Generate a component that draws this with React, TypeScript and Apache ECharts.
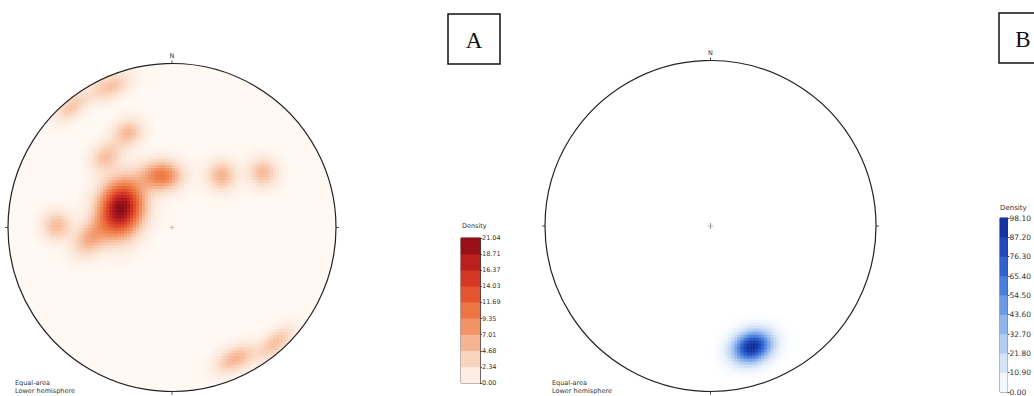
import React, { useEffect, useRef } from "react";
import * as echarts from "echarts";

// Density maps are sampled on a square grid of GRID_N x GRID_N cells over the net
const GRID_N = 110;

// Density concentrations:
// [x, y, peak density, sigma along major axis, sigma along minor axis, major axis angle (deg)]
// x, y and sigmas are in units of the net radius (centre = 0,0; north = +y)
const blobsA: number[][] = [
  [-0.311, 0.116, 21.04, 0.118, 0.09, 75],
  [-0.061, 0.317, 10.0, 0.085, 0.062, 0],
  [0.305, 0.317, 6.0, 0.062, 0.062, 0],
  [0.555, 0.335, 5.5, 0.062, 0.062, 0],
  [-0.268, 0.579, 5.5, 0.065, 0.055, 30],
  [-0.402, 0.433, 5.0, 0.07, 0.055, 40],
  [-0.701, 0.012, 5.5, 0.062, 0.062, 0],
  [-0.5, -0.067, 6.0, 0.085, 0.06, 50],
  [-0.378, 0.86, 5.0, 0.09, 0.05, 24],
  [-0.61, 0.738, 4.5, 0.08, 0.045, 40],
  [0.39, -0.799, 6.0, 0.09, 0.05, 26],
  [0.634, -0.701, 5.0, 0.09, 0.045, 42],
];
const blobsB: number[][] = [[0.253, -0.729, 98.1, 0.082, 0.062, 20]];

// Colour bar tick labels
const colorbarTicksA = ["0.00", "2.34", "4.68", "7.01", "9.35", "11.69", "14.03", "16.37", "18.71", "21.04"];
const colorbarTicksB = ["0.00", "10.90", "21.80", "32.70", "43.60", "54.50", "65.40", "76.30", "87.20", "98.10"];

// Colour maps (one stop per colour bar tick)
const colorsA = ["#FFF8F3", "#FBE3D3", "#F8C7AA", "#F4A37A", "#F0834F", "#EA6536", "#DE4628", "#CB2B20", "#AE151A", "#820A12"];
const colorsB = ["#FFFFFF", "#E4EEFB", "#C5DAF5", "#A3C2EF", "#7DA8E8", "#5A8CE0", "#3A6FD6", "#2553C6", "#173DB0", "#122A92"];

const titleA = "A";
const titleB = "B";
const netNote = "Equal-area\nLower hemisphere";

function densityGrid(blobs: number[][], n: number, floor: number, max: number) {
  const out: number[][] = [];
  for (let i = 0; i < n; i++) {
    for (let j = 0; j < n; j++) {
      const x = -1 + ((i + 0.5) * 2) / n;
      const y = -1 + ((j + 0.5) * 2) / n;
      if (x * x + y * y > 1) continue;
      let v = 0;
      for (const [bx, by, pk, sa, sb, ang] of blobs) {
        const a = (ang * Math.PI) / 180;
        const dx = x - bx;
        const dy = y - by;
        const u = dx * Math.cos(a) + dy * Math.sin(a);
        const w = -dx * Math.sin(a) + dy * Math.cos(a);
        v += pk * Math.exp(-0.5 * ((u * u) / (sa * sa) + (w * w) / (sb * sb)));
      }
      if (v >= floor) out.push([i, j, Math.min(max, +v.toFixed(3))]);
    }
  }
  return out;
}

function bandData(ticks: string[]) {
  const out: number[][] = [];
  for (let k = 0; k < ticks.length - 1; k++) {
    out.push([0, k, (parseFloat(ticks[k]) + parseFloat(ticks[k + 1])) / 2]);
  }
  return out;
}

const idx = (n: number) => Array.from({ length: n }, (_, i) => String(i));

const SMALL_FONT = "DejaVu Sans";

export default function App() {
  const ref = useRef<HTMLDivElement>(null);

  useEffect(() => {
    if (!ref.current) return;
    const chart = echarts.init(ref.current, undefined, { renderer: "svg" });
    const maxA = parseFloat(colorbarTicksA[colorbarTicksA.length - 1]);
    const maxB = parseFloat(colorbarTicksB[colorbarTicksB.length - 1]);

    const netA = { cx: 172, cy: 227.5, r: 164 };
    const netB = { cx: 710.5, cy: 226, r: 165.5 };

    const hiddenCat = (gridIndex: number, n: number) => ({
      type: "category" as const,
      gridIndex,
      data: idx(n),
      show: false,
      boundaryGap: true,
    });

    const cbValueAxis = (gridIndex: number, ticks: string[], fontSize: number) => ({
      type: "value" as const,
      gridIndex,
      position: "right" as const,
      min: 0,
      max: ticks.length - 1,
      interval: 1,
      axisLine: { show: true, lineStyle: { color: "#222", width: 0.8 } },
      axisTick: { show: true, length: 2, lineStyle: { color: "#222", width: 0.8 } },
      splitLine: { show: false },
      axisLabel: {
        margin: 2,
        fontSize,
        fontFamily: SMALL_FONT,
        color: "#333",
        formatter: (v: number) => ticks[Math.round(v)],
      },
    });

    const angleAxis = (polarIndex: number) => ({
      polarIndex,
      type: "value" as const,
      min: 0,
      max: 360,
      interval: 90,
      startAngle: 90,
      clockwise: true,
      z: 10,
      axisLine: { show: true, lineStyle: { color: "#222", width: 1.2 } },
      axisTick: { show: true, length: 3, lineStyle: { color: "#222", width: 0.8 } },
      axisLabel: {
        show: true,
        margin: 4,
        fontSize: 6.5,
        fontFamily: SMALL_FONT,
        color: "#333",
        formatter: (v: number) => (v === 0 ? "N" : ""),
      },
      splitLine: { show: false },
    });

    const plusSymbol = "path://M-1,-0.12H1V0.12H-1Z M-0.12,-1H0.12V1H-0.12Z";

    const heat = (xAxisIndex: number, yAxisIndex: number, data: number[][]) => ({
      type: "heatmap" as const,
      xAxisIndex,
      yAxisIndex,
      data,
      progressive: 0,
      silent: true,
      emphasis: { disabled: true },
    });

    chart.setOption({
      animation: false,
      backgroundColor: "#ffffff",
      grid: [
        { left: netA.cx - netA.r, top: netA.cy - netA.r, width: 2 * netA.r, height: 2 * netA.r, show: false },
        { left: 461, top: 238, width: 19, height: 145, show: true, borderColor: "#222", borderWidth: 0.8 },
        { left: netB.cx - netB.r, top: netB.cy - netB.r, width: 2 * netB.r, height: 2 * netB.r, show: false },
        { left: 1000, top: 218, width: 19, height: 175, show: true, borderColor: "#222", borderWidth: 0.8 },
      ],
      xAxis: [hiddenCat(0, GRID_N), hiddenCat(1, 1), hiddenCat(2, GRID_N), hiddenCat(3, 1)],
      yAxis: [
        hiddenCat(0, GRID_N),
        hiddenCat(1, colorbarTicksA.length - 1),
        cbValueAxis(1, colorbarTicksA, 6.5),
        hiddenCat(2, GRID_N),
        hiddenCat(3, colorbarTicksB.length - 1),
        cbValueAxis(3, colorbarTicksB, 7.5),
      ],
      polar: [
        { center: [netA.cx, netA.cy], radius: netA.r },
        { center: [netB.cx, netB.cy], radius: netB.r },
      ],
      angleAxis: [angleAxis(0), angleAxis(1)],
      radiusAxis: [
        { polarIndex: 0, min: 0, max: 1, show: false },
        { polarIndex: 1, min: 0, max: 1, show: false },
      ],
      visualMap: [
        { type: "continuous", show: false, min: 0, max: maxA, seriesIndex: [0, 1], inRange: { color: colorsA } },
        { type: "continuous", show: false, min: 0, max: maxB, seriesIndex: [2, 3], inRange: { color: colorsB } },
      ],
      series: [
        heat(0, 0, densityGrid(blobsA, GRID_N, 0.2, maxA)),
        heat(1, 1, bandData(colorbarTicksA)),
        heat(2, 3, densityGrid(blobsB, GRID_N, 0.5, maxB)),
        heat(3, 4, bandData(colorbarTicksB)),
        {
          type: "scatter",
          coordinateSystem: "polar",
          polarIndex: 0,
          data: [[0, 0]],
          symbol: plusSymbol,
          symbolSize: 5,
          itemStyle: { color: "#b07a70" },
          silent: true,
          z: 12,
        },
        {
          type: "scatter",
          coordinateSystem: "polar",
          polarIndex: 1,
          data: [[0, 0]],
          symbol: plusSymbol,
          symbolSize: 6,
          itemStyle: { color: "#555" },
          silent: true,
          z: 12,
        },
      ],
      graphic: [
        {
          type: "circle",
          shape: { cx: netA.cx, cy: netA.cy, r: netA.r },
          style: { fill: colorsA[0] },
          silent: true,
          z: -10,
        },
        {
          type: "text",
          x: 15,
          y: 379,
          style: { text: netNote, fontSize: 6.5, fontFamily: SMALL_FONT, fill: "#333", lineHeight: 8 },
        },
        {
          type: "text",
          x: 552,
          y: 379,
          style: { text: netNote, fontSize: 6.5, fontFamily: SMALL_FONT, fill: "#333", lineHeight: 8 },
        },
        {
          type: "text",
          x: 462,
          y: 226,
          style: { text: "Density", fontSize: 6.5, fontFamily: SMALL_FONT, fill: "#333", verticalAlign: "middle" },
        },
        {
          type: "text",
          x: 1000,
          y: 208,
          style: { text: "Density", fontSize: 7, fontFamily: SMALL_FONT, fill: "#333", verticalAlign: "middle" },
        },
        {
          type: "rect",
          shape: { x: 448, y: 14, width: 52, height: 50 },
          style: { fill: "none", stroke: "#111", lineWidth: 1.5 },
        },
        {
          type: "text",
          x: 474,
          y: 40,
          style: {
            text: titleA,
            fontSize: 23,
            fontFamily: "Liberation Serif",
            fill: "#111",
            align: "center",
            verticalAlign: "middle",
          },
        },
        {
          type: "rect",
          shape: { x: 999, y: 13, width: 52, height: 50 },
          style: { fill: "none", stroke: "#111", lineWidth: 1.5 },
        },
        {
          type: "text",
          x: 1023,
          y: 39,
          style: {
            text: titleB,
            fontSize: 23,
            fontFamily: "Liberation Serif",
            fill: "#111",
            align: "center",
            verticalAlign: "middle",
          },
        },
      ],
    });

    return () => chart.dispose();
  }, []);

  return (
    <div
      ref={ref}
      style={{ position: "absolute", left: 0, top: 0, width: 1034, height: 396 }}
    />
  );
}
